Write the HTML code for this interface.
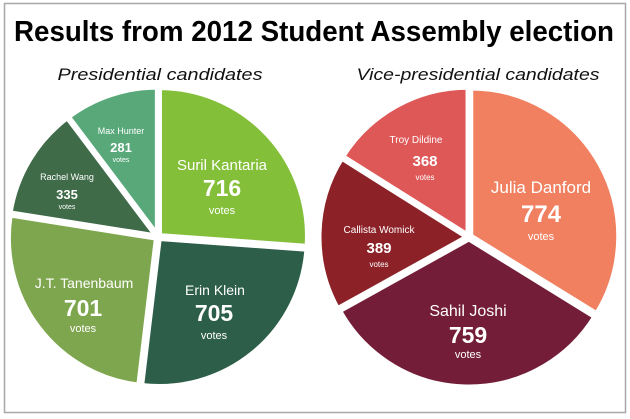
<!DOCTYPE html>
<html><head><meta charset="utf-8"><style>
html,body{margin:0;padding:0;background:#fff;}
svg{display:block;}
text{font-family:"Liberation Sans",sans-serif;fill:#fff;text-anchor:middle;}
</style></head><body>
<svg id="s" width="630" height="419" viewBox="0 0 630 419" xmlns="http://www.w3.org/2000/svg">
<rect x="4.5" y="3.5" width="621" height="409" fill="#fff" stroke="#a8a8a8" stroke-width="1.5"/>
<text x="314" y="41" style="fill:#000;font-weight:bold;font-size:29px" textLength="600" lengthAdjust="spacingAndGlyphs">Results from 2012 Student Assembly election</text>
<text x="160" y="80" style="fill:#111;font-style:italic;font-size:17px" textLength="205" lengthAdjust="spacingAndGlyphs">Presidential candidates</text>
<text x="478" y="80" style="fill:#111;font-style:italic;font-size:17px" textLength="243" lengthAdjust="spacingAndGlyphs">Vice-presidential candidates</text>
<g id="pies"></g>
<g>
<text x="222" y="170" style="font-size:15px">Suril Kantaria</text>
<text x="222" y="196" style="font-size:23px;font-weight:bold">716</text>
<text x="222" y="214" style="font-size:11px">votes</text>
<text x="121" y="134" style="font-size:9px">Max Hunter</text>
<text x="121" y="152" style="font-size:13px;font-weight:bold">281</text>
<text x="121" y="162" style="font-size:7px">votes</text>
<text x="67" y="180" style="font-size:9px">Rachel Wang</text>
<text x="67" y="199" style="font-size:13px;font-weight:bold">335</text>
<text x="67" y="209" style="font-size:7px">votes</text>
<text x="84" y="288" style="font-size:14px">J.T. Tanenbaum</text>
<text x="83" y="316" style="font-size:23px;font-weight:bold">701</text>
<text x="83" y="332" style="font-size:11px">votes</text>
<text x="215" y="295" style="font-size:14px">Erin Klein</text>
<text x="214" y="321" style="font-size:23px;font-weight:bold">705</text>
<text x="214" y="339" style="font-size:11px">votes</text>
<text x="416" y="143" style="font-size:10px">Troy Dildine</text>
<text x="425" y="166" style="font-size:15px;font-weight:bold">368</text>
<text x="425" y="180" style="font-size:8px">votes</text>
<text x="541" y="193" style="font-size:17px">Julia Danford</text>
<text x="541" y="222" style="font-size:24px;font-weight:bold">774</text>
<text x="541" y="240" style="font-size:11px">votes</text>
<text x="379" y="233" style="font-size:10px">Callista Womick</text>
<text x="379" y="253" style="font-size:15px;font-weight:bold">389</text>
<text x="379" y="267" style="font-size:8px">votes</text>
<text x="468" y="316" style="font-size:16px">Sahil Joshi</text>
<text x="468" y="343" style="font-size:23px;font-weight:bold">759</text>
<text x="468" y="358" style="font-size:11px">votes</text>
</g>
</svg>
<script>
function pie(cx,cy,r,vals,cols,off){
  var t=vals.reduce(function(a,b){return a+b},0),a=0,out="";
  for(var i=0;i<vals.length;i++){
    var a0=a,a1=a+vals[i]/t*2*Math.PI;a=a1;
    var m=(a0+a1)/2,ox=cx+off*Math.sin(m),oy=cy-off*Math.cos(m);
    var x0=ox+r*Math.sin(a0),y0=oy-r*Math.cos(a0),x1=ox+r*Math.sin(a1),y1=oy-r*Math.cos(a1);
    var big=(a1-a0)>Math.PI?1:0;
    out+='<path d="M'+ox+' '+oy+' L'+x0+' '+y0+' A'+r+' '+r+' 0 '+big+' 1 '+x1+' '+y1+' Z" fill="'+cols[i]+'" stroke="#fff" stroke-width="5"/>';
  }
  return out;
}
document.getElementById('pies').innerHTML=
 pie(158,237,148,[716,705,701,335,281],['#84bf3a','#2d5e4a','#7ea64e','#3f6b48','#58a87a'],2)+
 pie(469,237,148,[774,759,389,368],['#f08060','#731d38','#8c2228','#de5858'],2);
</script>
</body></html>
